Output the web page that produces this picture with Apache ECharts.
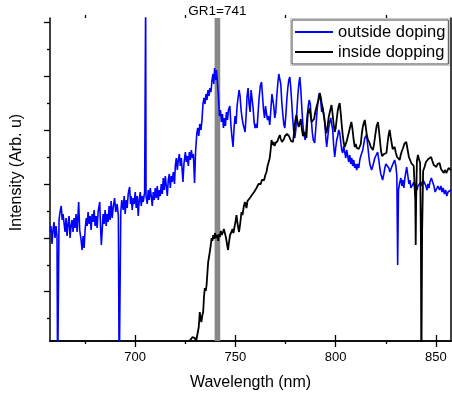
<!DOCTYPE html>
<html>
<head>
<meta charset="utf-8">
<script src="https://cdn.jsdelivr.net/npm/echarts@6/dist/echarts.min.js"></script>
<style>
html,body{margin:0;padding:0;background:#fff;}
#chart{width:452px;height:396px;}
</style>
</head>
<body>
<div id="chart"></div>
<script>
// ---- data (wavelength nm, intensity arb. units) ----
const xMajorTicks = [700, 750, 800, 850];
const xMinorTicks = [675, 725, 775, 825];
const yMajorTicks = [49.3, 103.1, 156.9, 210.7, 264.5, 318.3];
const yMinorTicks = [22.4, 76.2, 130, 183.8, 237.6, 291.4];
const gr1Band = [739.6, 742.4];
const gr1Label = 'GR1=741';

const outsideDoping = [
[657.5,109],[658,115],[658.5,97],[659,111],[659.5,119],[660,103],[660.5,115],[661.0,105],[661.3,-40],[661.7,-40],
[662.0,121],[662.5,129],[663.1,135],[663.6,121],[664,127],[665,109],[665.5,123],[666,105],[666.5,117],[667,125],
[667.5,103],[668,115],[668.5,121],[669,109],[669.5,123],[670,113],[670.5,127],[671,109],[671.8,139],[672.3,111],
[673,101],[673.5,91],[674,105],[674.5,93],[675,111],[675.6,123],[676,115],[676.5,129],[677,117],[677.5,125],
[678,111],[678.5,127],[679,119],[679.5,131],[680,115],[680.5,125],[681,113],[681.5,129],[682.3,139],[682.7,115],
[683.1,96],[683.6,113],[684,127],[684.5,117],[685,131],[685.5,115],[686,127],[686.5,119],[687,135],[687.5,121],
[688,140],[688.5,123],[689,133],[689.7,143],[690.3,129],[691,137],[691.6,125],[692.0,-40],[692.4,-40],[692.8,129],
[693.3,141],[694,131],[694.5,145],[695,127],[695.5,141],[696,133],[696.5,147],[697.2,154],[697.7,137],[698,145],
[698.5,131],[699,143],[699.5,137],[700,149],[700.5,133],[701,145],[701.5,125],[702,141],[702.5,149],[703,135],
[703.5,145],[704,139],[704.7,149],[705.0,151],[705.2,340],[705.4,145],[706,137],[706.5,151],[707,141],[707.5,153],
[708,145],[708.5,135],[709,149],[709.5,141],[710,153],[710.5,143],[711,155],[711.5,141],[712,151],[712.5,145],
[713,157],[713.5,147],[714,163],[714.5,151],[715,165],[715.5,155],[716,145],[716.5,161],[717,167],[717.5,153],
[718,165],[718.5,159],[719,169],[719.6,157],[720,175],[720.5,183],[721,171],[721.5,181],[722,187],[722.5,175],
[723,183],[723.8,159],[724.3,177],[725,189],[725.5,179],[726,185],[726.5,175],[727,189],[727.5,181],[728,191],
[728.5,183],[729,187],[729.6,158],[730.1,189],[730.7,207],[731.2,213],[731.7,205],[732.2,217],[732.8,211],[733.3,221],
[733.8,237],[734.3,243],[734.8,237],[735.3,247],[735.8,241],[736.3,251],[736.8,245],[737.3,253],[737.8,249],[738.3,261],
[738.8,267],[739.2,257],[739.6,273],[740.1,261],[740.5,271],[741.0,259],[741.5,245],[742.0,225],[742.5,231],[743,219],
[743.5,227],[744,213],[744.5,223],[745,215],[745.5,229],[746,221],[746.5,231],[747.2,235],[747.7,217],[748.2,205],
[748.8,194],[749.3,213],[749.8,225],[750.3,217],[750.8,235],[751.3,243],[751.8,251],[752.3,245],[752.8,231],[753.3,223],
[753.8,217],[754.3,213],[754.8,209],[755.3,225],[755.8,245],[756.3,253],[756.8,237],[757.3,229],[757.8,251],[758.3,253],
[758.8,233],[759.3,219],[759.8,213],[760.3,217],[760.8,213],[761.3,229],[761.8,243],[762.4,255],[763.0,259],[763.5,245],
[764,231],[764.5,223],[765,235],[765.5,227],[766,221],[766.5,225],[767.1,216],[767.7,233],[768.2,247],[768.6,249],
[769.1,235],[769.6,223],[770.1,229],[770.6,245],[771.1,257],[771.6,267],[772.1,269],[772.6,257],[773.1,239],[773.6,227],
[774.1,217],[774.6,213],[775.1,225],[775.6,241],[776.1,253],[776.6,261],[777.1,264],[777.6,253],[778.1,237],[778.6,221],
[779.1,209],[779.6,203],[780.1,211],[780.6,229],[781.1,245],[781.6,257],[782.1,264],[782.6,251],[783.1,233],[783.6,217],
[784.1,207],[784.8,201],[785.3,213],[785.8,225],[786.3,235],[786.8,241],[787.3,237],[787.8,223],[788.3,209],[788.8,201],
[789.5,198],[790,211],[790.5,225],[791,237],[791.5,245],[792.0,248],[792.5,241],[793,229],[793.5,233],[794,227],
[794.5,221],[795,205],[795.5,194],[796,203],[796.5,213],[797,219],[797.5,223],[798.0,224],[798.5,211],[799,195],
[799.5,184],[800,193],[800.5,201],[801,205],[801.5,211],[802,208],[802.5,199],[803,191],[803.5,188],[804,195],
[804.5,189],[805,183],[805.5,191],[806,185],[806.5,179],[807,186],[807.5,177],[808,183],[808.5,175],[809,181],
[809.5,173],[810,177],[810.5,171],[811,177],[811.5,173],[812,181],[812.5,185],[813,184],[813.5,191],[814,197],
[814.5,203],[815.4,206],[816,195],[816.5,185],[817,177],[817.9,171],[818.5,175],[819,179],[819.5,183],[820,185],
[820.9,189],[821.5,181],[822,173],[822.5,167],[823.4,161],[824,167],[824.5,173],[825,177],[825.9,178],[826.5,173],
[827,169],[827.9,171],[828.5,177],[829.4,181],[830,175],[830.5,165],[830.9,76],[831.3,151],[831.9,158],[832.5,163],
[833,155],[833.5,161],[834,153],[834.5,163],[835.4,174],[836,165],[836.5,157],[837,161],[837.5,153],[838.4,154],
[839,159],[839.5,151],[840,157],[840.5,151],[841,155],[841.9,154],[842.5,159],[843,155],[843.6,161],[844.3,163],
[845,155],[845.5,151],[846,157],[846.5,153],[847,159],[847.7,163],[848.3,164],[849,155],[849.6,149],[850.3,148],
[851,155],[851.8,151],[852.5,155],[853,149],[853.6,153],[854.2,147],[854.8,151],[855.4,145],[856,149],[856.8,147],
[857.5,151]
];

const insideDopping = [
[722,-4],[724,-3],[726,-1],[727.5,1],[728.6,4],[729.2,2],[729.7,3],[730.4,0],[731.2,-1],[731.7,14],[732.2,29],
[732.6,22],[733.0,19],[733.5,26],[733.9,29],[734.3,44],[734.7,53],[735.2,50],[735.6,56],[736.0,68],[736.4,79],
[736.8,84],[737.2,89],[737.7,96],[738.1,103],[738.5,100],[738.9,106],[739.4,102],[739.8,108],[740.2,103],[740.6,101],
[741.0,106],[741.4,100],[741.8,107],[742.2,104],[742.7,110],[743.2,106],[743.8,109],[744.2,112],[744.7,113],[745.2,104],
[745.7,98],[746.3,91],[746.8,99],[747.3,106],[748.0,109],[748.5,112],[749.0,108],[749.7,116],[750.1,120],[750.5,126],
[751.0,118],[751.4,113],[751.8,109],[752.4,118],[753.0,129],[753.5,126],[754.1,134],[754.7,139],[755.1,136],[755.5,133],
[756.0,140],[756.6,138],[757.2,143],[757.7,141],[758.2,146],[758.8,146],[759.3,149],[759.9,147],[760.5,153],[761.0,151],
[761.5,157],[762.1,159],[762.6,157],[763.2,161],[763.8,163],[764.3,161],[764.9,166],[765.5,169],[765.9,174],[766.3,176],
[766.7,180],[767.1,183],[767.6,192],[768.0,201],[768.5,196],[769.0,199],[769.5,195],[770.0,198],[770.5,196],[771.0,200],
[771.5,203],[772.1,206],[772.6,202],[773.2,199],[773.7,198],[774.2,202],[774.7,205],[775.2,203],[775.7,207],[776.2,209],
[776.7,205],[777.2,203],[777.7,200],[778.2,202],[778.7,199],[779.3,210],[779.8,220],[780.4,226],[780.9,220],[781.5,214],
[782.1,218],[782.6,222],[783.1,212],[783.7,205],[784.2,209],[784.8,206],[785.4,203],[785.8,218],[786.2,231],[786.6,228],
[787.0,233],[787.5,225],[788.0,219],[788.7,217],[789.2,222],[789.8,229],[790.4,234],[791.2,236],[791.6,242],[792.0,248],
[792.5,244],[793.0,238],[793.7,231],[794.3,222],[794.8,214],[795.4,208],[795.9,214],[796.5,224],[797.2,230],[797.9,236],
[798.4,228],[798.9,218],[799.5,209],[800.0,213],[800.5,222],[801.0,230],[801.5,235],[802.0,238],[802.5,228],[803.0,216],
[803.5,206],[804.0,198],[804.5,194],[805.0,197],[805.5,200],[806.1,201],[806.6,209],[807.2,214],[807.8,219],[808.3,213],
[808.9,202],[809.5,194],[810.0,197],[810.5,193],[811.0,195],[811.5,192],[812.0,191],[812.5,197],[813.0,207],[813.5,214],
[814.0,218],[814.5,221],[815.0,214],[815.5,206],[816.0,202],[816.9,198],[817.5,194],[818.0,192],[818.6,191],[819.2,198],
[819.8,207],[820.4,215],[821.1,219],[821.6,210],[822.1,200],[822.6,190],[823.1,185],[823.6,184],[824.1,187],[824.6,186],
[825.3,188],[825.8,197],[826.3,205],[826.9,211],[827.4,204],[827.9,198],[828.4,192],[829.4,194],[830.0,188],[830.6,184],
[831.2,182],[831.9,181],[832.4,186],[833.0,190],[833.6,193],[834.2,197],[835.2,199],[835.8,192],[836.5,184],[837.1,181],
[837.7,178],[838.3,176],[838.9,175],[839.4,174],[839.7,140],[839.9,96],[840.1,140],[840.5,180],[841.0,186],[841.5,182],
[842.1,178],[842.5,100],[842.7,-40],[842.9,-40],[843.1,110],[843.6,170],[844.3,174],[845.0,179],[845.6,178],[846.2,182],
[847.0,184],[847.6,184],[848.2,180],[848.9,176],[849.6,175],[850.2,174],[850.8,177],[851.3,178],[851.8,178],[852.5,172],
[853.2,170],[853.9,168],[854.5,171],[855.2,168],[855.8,170],[856.3,173],[856.8,173],[857.5,171]
];

const FONT = 'Liberation Sans, Arial, sans-serif';
const X_MIN = 657.5, X_MAX = 857.5, Y_MIN = 0, Y_MAX = 323;
const gridRect = {left: 50, right: 1, top: 18, bottom: 55, containLabel: false};
const lineAxis = {show: true, lineStyle: {color: '#000', width: 1.5}};

const chart = echarts.init(document.getElementById('chart'), null, {renderer: 'canvas'});
chart.setOption({
  animation: false,
  backgroundColor: '#fff',
  textStyle: {fontFamily: FONT},
  grid: [Object.assign({}, gridRect), Object.assign({}, gridRect)],
  legend: {
    orient: 'vertical', left: 292, top: 20,
    padding: [2, 3, 2, 3], itemGap: 0, itemWidth: 38, itemHeight: 2,
    borderColor: '#444', borderWidth: 1, backgroundColor: '#fff',
    icon: 'rect',
    textStyle: {fontFamily: FONT, fontSize: 16.5, color: '#000', lineHeight: 20},
    data: ['outside doping', 'inside dopping']
  },
  xAxis: [
    {gridIndex: 0, type: 'value', position: 'bottom', min: X_MIN, max: X_MAX,
     axisLine: lineAxis, splitLine: {show: false},
     axisTick: {show: true, inside: false, length: 6, customValues: xMajorTicks, lineStyle: {color: '#000', width: 1.3}},
     axisLabel: {show: true, customValues: xMajorTicks, fontFamily: FONT, fontSize: 13, color: '#000', margin: 10},
     name: 'Wavelength (nm)', nameLocation: 'middle', nameGap: 34,
     nameTextStyle: {fontFamily: FONT, fontSize: 16, color: '#000'}},
    {gridIndex: 0, type: 'value', position: 'top', min: X_MIN, max: X_MAX,
     axisLine: lineAxis, splitLine: {show: false},
     axisTick: {show: true, inside: false, length: 6, customValues: xMajorTicks, lineStyle: {color: '#000', width: 1.3}},
     axisLabel: {show: false}},
    {gridIndex: 1, type: 'value', position: 'bottom', min: X_MIN, max: X_MAX,
     axisLine: {show: false}, splitLine: {show: false},
     axisTick: {show: true, inside: false, length: 3, customValues: xMinorTicks, lineStyle: {color: '#000', width: 1.3}},
     axisLabel: {show: false}},
    {gridIndex: 1, type: 'value', position: 'top', min: X_MIN, max: X_MAX,
     axisLine: {show: false}, splitLine: {show: false},
     axisTick: {show: true, inside: false, length: 3, customValues: xMinorTicks, lineStyle: {color: '#000', width: 1.3}},
     axisLabel: {show: false}}
  ],
  yAxis: [
    {gridIndex: 0, type: 'value', position: 'left', min: Y_MIN, max: Y_MAX,
     axisLine: lineAxis, splitLine: {show: false},
     axisTick: {show: true, inside: false, length: 6, customValues: yMajorTicks, lineStyle: {color: '#000', width: 1.3}},
     axisLabel: {show: false},
     name: 'Intensity (Arb. u)', nameLocation: 'middle', nameGap: 25,
     nameTextStyle: {fontFamily: FONT, fontSize: 16, color: '#000', padding: [0, 0, 0, 14]}},
    {gridIndex: 0, type: 'value', position: 'right', min: Y_MIN, max: Y_MAX,
     axisLine: lineAxis, splitLine: {show: false}, axisTick: {show: false}, axisLabel: {show: false}},
    {gridIndex: 1, type: 'value', position: 'left', min: Y_MIN, max: Y_MAX,
     axisLine: {show: false}, splitLine: {show: false},
     axisTick: {show: true, inside: false, length: 3, customValues: yMinorTicks, lineStyle: {color: '#000', width: 1.3}},
     axisLabel: {show: false}}
  ],
  graphic: [
    {type: 'rect', shape: {x: 290.5, y: 18.5, width: 159, height: 47}, style: {fill: 'none', stroke: '#c8c8c8', lineWidth: 1}, z: 100}
  ],
  series: [
    {name: 'outside doping', type: 'line', xAxisIndex: 0, yAxisIndex: 0, data: outsideDoping,
     showSymbol: false, symbol: 'none', clip: true, z: 3,
     lineStyle: {color: '#0000ff', width: 1.6}, itemStyle: {color: '#0000ff'},
     markArea: {silent: true, z: 1,
       itemStyle: {color: '#888888', opacity: 1},
       label: {show: true, position: 'top', distance: 0, formatter: gr1Label, fontFamily: FONT, fontSize: 13.5, color: '#000'},
       data: [[{xAxis: gr1Band[0]}, {xAxis: gr1Band[1]}]]}},
    {name: 'inside dopping', type: 'line', xAxisIndex: 0, yAxisIndex: 0, data: insideDopping,
     showSymbol: false, symbol: 'none', clip: true, z: 4,
     lineStyle: {color: '#000000', width: 1.8}, itemStyle: {color: '#000000'}}
  ]
});
</script>
</body>
</html>
